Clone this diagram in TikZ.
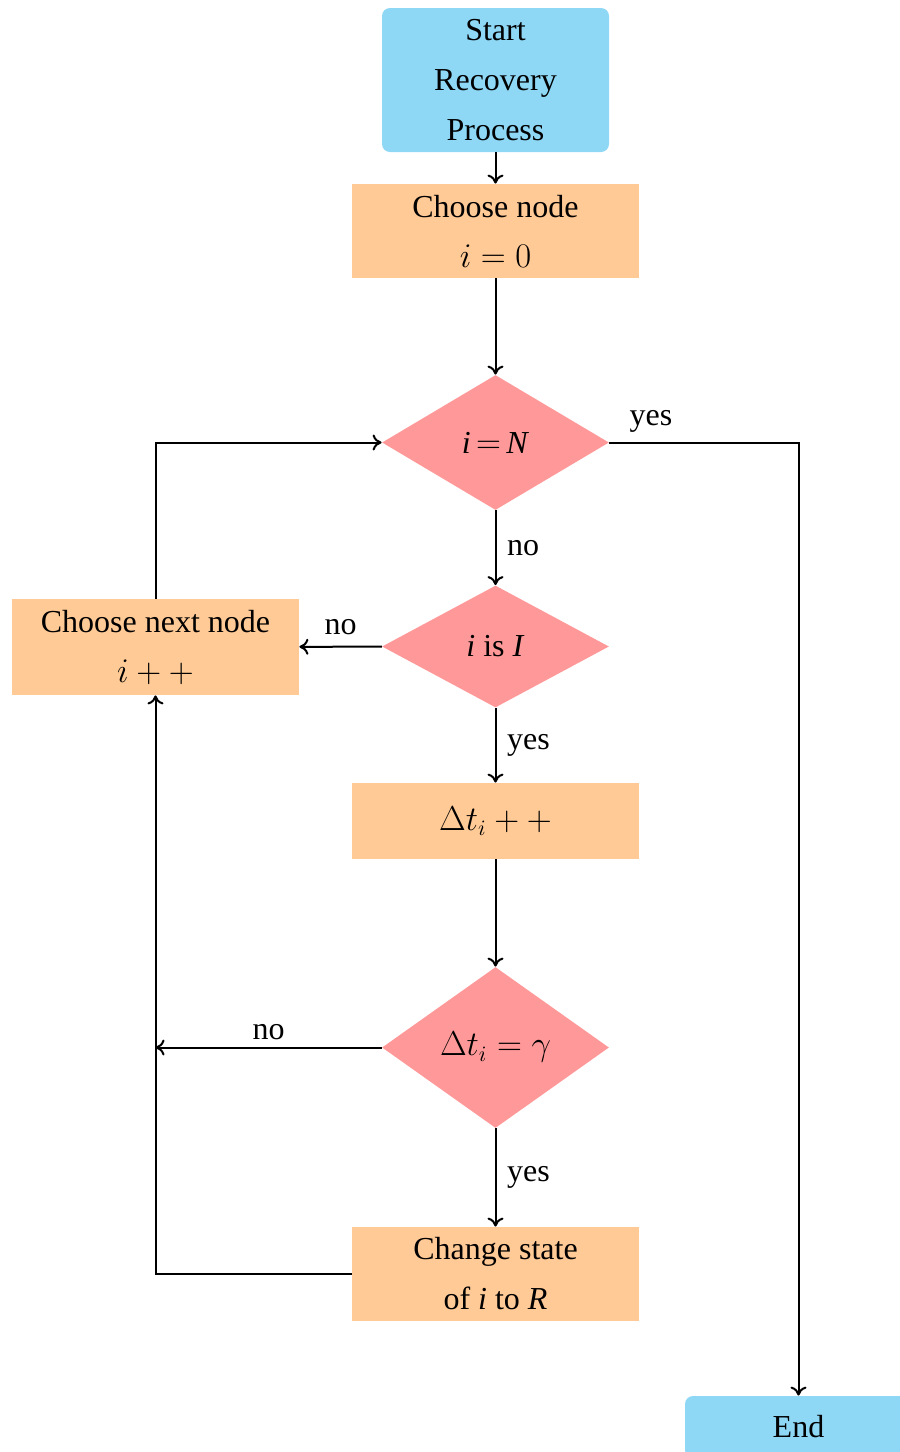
\documentclass[tikz,border=0pt]{standalone}
\usepackage{amsmath}
\usepackage{fontspec}
\setmainfont{Liberation Serif}
\usetikzlibrary{arrows.meta}
\usetikzlibrary{shapes.geometric}
\definecolor{startblue}{RGB}{142,216,246}
\definecolor{boxorange}{RGB}{255,202,150}
\definecolor{testred}{RGB}{255,153,153}
\tikzset{startstop/.style = {rectangle, rounded corners = 4pt, fill = startblue,
                             minimum width = 113.5pt, align = center},
         process/.style = {rectangle, fill = boxorange, minimum width = 143.5pt,
                           align = center},
         decision/.style = {diamond, fill = testred, minimum width = 113.5pt,
                            inner sep = 0pt, align = center},
         flow/.style = {line width = 1pt, -{To[length = 4.5pt, width = 8pt]}}}

\begin{document}
\begin{tikzpicture}[x = 0.5pt, y = -0.5pt, font = \fontsize{16}{25}\selectfont]
      \useasboundingbox (0, 0) rectangle (900, 1452);
      \node [startstop, minimum height = 72pt] (start) at (495.5, 80) {Start\\Recovery\\Process};
      \node [process, minimum height = 47pt] (choose) at (495.5, 231) {Choose node\\$i = 0$};
      \node [decision, minimum height = 67.5pt] (iN) at (495.5, 442.5) {\textit{i}\,$=$\,\textit{N}};
      \node [decision, minimum height = 61pt] (iI) at (495.5, 646.5) {\textit{i} is \textit{I}};
      \node [process, minimum height = 48pt] (next) at (155.5, 647) {Choose next node\\$i++$};
      \node [process, minimum height = 38pt] (dt) at (495.5, 821) {$\Delta t_i++$};
      \node [decision, minimum height = 80.5pt] (dg) at (495.5, 1047.5) {$\Delta t_i = \gamma$};
      \node [process, minimum height = 47pt] (change) at (495.5, 1274) {Change state\\of \textit{i} to \textit{R}};
      \node [startstop, minimum height = 31pt] (end) at (798.5, 1427) {End};
      \coordinate (join) at (next.south |- dg.west);

      \draw [flow] (start) -- (choose);
      \draw [flow] (choose) -- (iN);
      \draw [flow] (iN.east) -| node [pos = 0.11, above = 1pt] {yes} (end.north);
      \draw [flow] (iN) -- node [right = 2pt] {no} (iI);
      \draw [flow] (iI) -- node [above = 2pt] {no} (next);
      \draw [flow] (next.north) |- (iN.west);
      \draw [flow] (iI) -- node [right = 2pt] {yes} (dt);
      \draw [flow] (dt) -- (dg);
      \draw [flow] (dg.west) -- node [above] {no} (join);
      \draw [flow] (dg) -- node [right = 2pt] {yes} (change);
      \draw [flow] (change.west) -| (next.south);
\end{tikzpicture}
\end{document}
